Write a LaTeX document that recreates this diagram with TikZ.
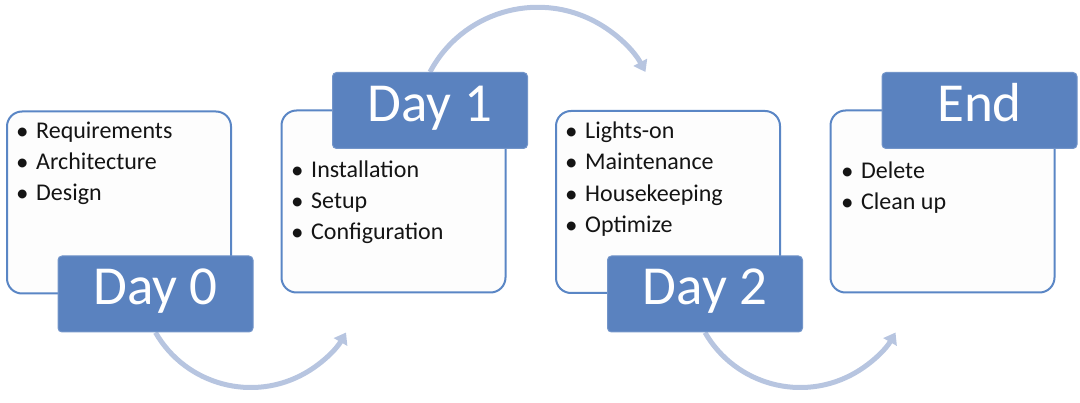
\documentclass[tikz,border=0pt]{standalone}
\usepackage{fontspec}
\setmainfont{Carlito}
\usetikzlibrary{arrows.meta,backgrounds}
\definecolor{lblue}{HTML}{5A82BF}
\definecolor{bedge}{HTML}{5A86C5}
\definecolor{arrowc}{HTML}{B7C5E0}
\definecolor{cardfill}{HTML}{FDFDFD}
\begin{document}
\begin{tikzpicture}[x=1pt,y=-1pt,
  card/.style={draw=bedge, line width=2pt, fill=cardfill, rounded corners=15pt,
    minimum width=224pt, minimum height=182pt, inner sep=0pt},
  tag/.style={fill=lblue, draw=lblue!85!white, line width=1pt, rounded corners=4pt,
    minimum width=195pt, text height=49pt, text depth=27pt, inner sep=0pt,
    text=white, font=\fontsize{55}{55}\selectfont},
  item/.style={anchor=base west, inner sep=0pt, font=\fontsize{24}{28}\selectfont, text=black!92},
  flow/.style={draw=arrowc, line width=5pt, -{Triangle[width=15pt,length=11pt]}}]
\useasboundingbox (0,0) rectangle (1080,403);
\newcommand{\bul}{\makebox[19pt][l]{\hspace{-1pt}\raisebox{-1pt}{\fontsize{25}{25}\selectfont\textbullet}}}
% cards
\node[card] (b0) at (119,202.5) {};
\node[card] (b1) at (393.5,201.5) {};
\node[card] (b2) at (668,202) {};
\node[card] (b3) at (942.5,201.5) {};
% tags
\node[tag] (d0) at (155.5,294) {Day 0};
\node[tag] (d1) at (430,110.5) {Day 1};
\node[tag] (d2) at (705,294) {Day 2};
\node[tag] (d3) at (979.5,110.5) {End};
% items
\node[item] (i0a) at (17,139) {\bul Requirements};
\node[item] (i0b) at (17,170) {\bul Architecture};
\node[item] (i0c) at (17,201) {\bul Design};
\node[item] (i1a) at (292,178) {\bul Installation};
\node[item] (i1b) at (292,209) {\bul Setup};
\node[item] (i1c) at (292,240) {\bul Configuration};
\node[item] (i2a) at (566,139) {\bul Lights-on};
\node[item] (i2b) at (566,170) {\bul Maintenance};
\node[item] (i2c) at (566,202) {\bul Housekeeping};
\node[item] (i2d) at (566,233) {\bul Optimize};
\node[item] (i3a) at (842,179) {\bul Delete};
\node[item] (i3b) at (842,210) {\bul Clean up};
% arrows
\begin{scope}[on background layer]
\draw[flow] (d0.south) arc[start angle=150, end angle=30, radius=110];
\draw[flow] (d1.north) arc[start angle=208, end angle=332, radius=122];
\draw[flow] (d2.south) arc[start angle=150, end angle=30, radius=110];
\end{scope}
\end{tikzpicture}
\end{document}
